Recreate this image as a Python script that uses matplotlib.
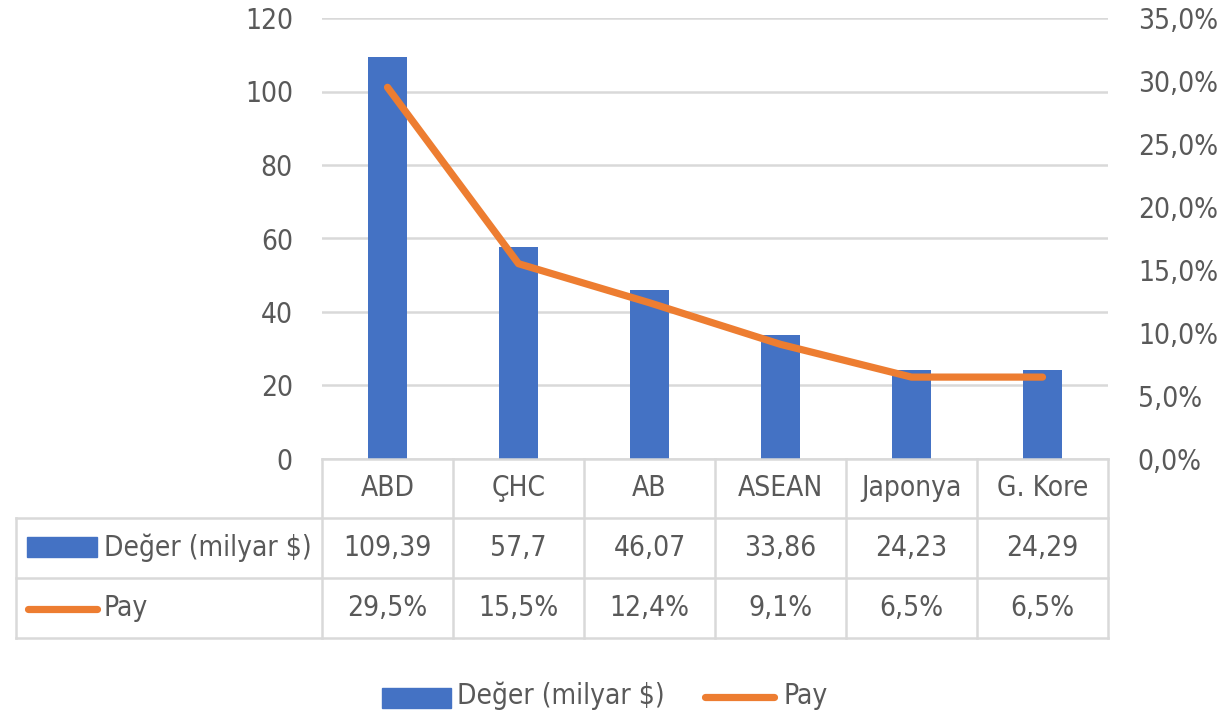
import matplotlib
matplotlib.use("Agg")
import matplotlib.pyplot as plt
import matplotlib.transforms as mtransforms
from matplotlib import font_manager
from matplotlib.patches import Rectangle
from matplotlib.lines import Line2D

categories = ["ABD", "ÇHC", "AB", "ASEAN", "Japonya", "G. Kore"]
deger = [109.39, 57.7, 46.07, 33.86, 24.23, 24.29]
pay = [29.5, 15.5, 12.4, 9.1, 6.5, 6.5]
deger_labels = ["109,39", "57,7", "46,07", "33,86", "24,23", "24,29"]
pay_labels = ["29,5%", "15,5%", "12,4%", "9,1%", "6,5%", "6,5%"]
left_ticks = [0, 20, 40, 60, 80, 100, 120]
right_ticks = [0, 5, 10, 15, 20, 25, 30, 35]

BLUE = "#4472C4"
ORANGE = "#ED7D31"
GRID = "#D9D9D9"
TXT = "#595959"
LW = 5.2

# narrow font if available (Calibri-ish), else Liberation Sans a bit smaller
cond = font_manager.findfont(font_manager.FontProperties(family="DejaVu Sans", stretch="condensed"))
if "Condensed" in cond:
    plt.rcParams["font.family"] = ["DejaVu Sans"]
    plt.rcParams["font.stretch"] = "condensed"
    FS = 20.2
else:
    plt.rcParams["font.family"] = ["Liberation Sans", "DejaVu Sans"]
    FS = 19

W, H = 1231, 717
fig = plt.figure(figsize=(W / 100, H / 100), dpi=100)
ax = fig.add_axes([322 / W, 1 - 459 / H, (1108 - 322) / W, (459 - 18) / H])
ax2 = ax.twinx()

x = list(range(len(categories)))
ax.bar(x, deger, width=0.305, color=BLUE, zorder=2)
ax2.plot(x, pay, color=ORANGE, lw=LW, solid_capstyle="round",
         solid_joinstyle="round", zorder=3)

ax.set_xlim(-0.5, len(categories) - 0.5)
ax.set_ylim(0, 120)
ax2.set_ylim(0, 35)
ax.set_yticks(left_ticks)
ax.set_yticklabels([str(t) for t in left_ticks])
ax2.set_yticks(right_ticks)
ax2.set_yticklabels([f"{t},0%" for t in right_ticks])
ax.set_xticks([])
for a in (ax, ax2):
    a.tick_params(length=0, labelsize=FS, labelcolor=TXT)
    for s in a.spines.values():
        s.set_visible(False)
ax.tick_params(axis="y", pad=21)
ax2.tick_params(axis="y", pad=21.5)
ax.yaxis.grid(True, color=GRID, lw=1.8, zorder=0)
ax.set_axisbelow(True)
ax.set_zorder(1)
ax2.set_zorder(2)
ax.patch.set_visible(False)

# pixel transform (origin top-left) and blended data-x / pixel-y
px = mtransforms.Affine2D().scale(1 / W, -1 / H).translate(0, 1) + fig.transFigure
bx = mtransforms.blended_transform_factory(ax.transData, px)

lkw = dict(color=GRID, lw=1.8, clip_on=False)
n = len(categories)
# horizontal table lines
fig.add_artist(Line2D([-0.5, n - 0.5], [459, 459], transform=bx, **lkw))
for yy in (518, 578, 638):
    fig.add_artist(Line2D([16, 1108], [yy, yy], transform=px, **lkw))
# vertical table lines
for i in range(n + 1):
    fig.add_artist(Line2D([i - 0.5, i - 0.5], [459, 638], transform=bx, **lkw))
fig.add_artist(Line2D([16, 16], [518, 638], transform=px, **lkw))

# table text
for i, c in enumerate(categories):
    fig.text(i, 488, c, transform=bx, ha="center", va="center", fontsize=FS, color=TXT)
    fig.text(i, 548, deger_labels[i], transform=bx, ha="center", va="center", fontsize=FS, color=TXT)
    fig.text(i, 608, pay_labels[i], transform=bx, ha="center", va="center", fontsize=FS, color=TXT)

# row legend keys
fig.add_artist(Rectangle((27, 557), 70, -20, transform=px, color=BLUE))
fig.text(104, 548, "Değer (milyar $)", transform=px, ha="left", va="center", fontsize=FS, color=TXT)
fig.add_artist(Line2D([28, 97], [609, 609], transform=px, color=ORANGE, lw=LW,
                      solid_capstyle="round"))
fig.text(104, 608, "Pay", transform=px, ha="left", va="center", fontsize=FS, color=TXT)

# bottom legend
fig.add_artist(Rectangle((382, 708), 69, -20, transform=px, color=BLUE))
fig.text(457, 696, "Değer (milyar $)", transform=px, ha="left", va="center", fontsize=FS, color=TXT)
fig.add_artist(Line2D([705, 774], [697, 697], transform=px, color=ORANGE, lw=LW,
                      solid_capstyle="round"))
fig.text(783, 696, "Pay", transform=px, ha="left", va="center", fontsize=FS, color=TXT)

fig.savefig("out.png", dpi=100, facecolor="white")
